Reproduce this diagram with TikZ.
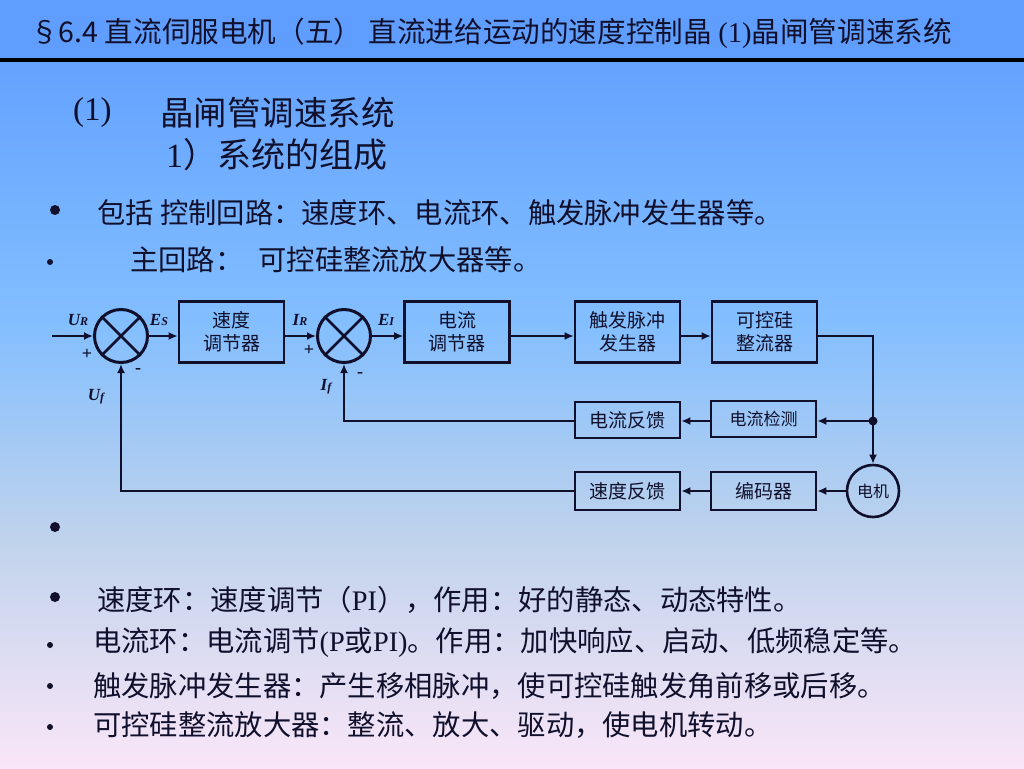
\documentclass[tikz,border=0pt]{standalone}
\usepackage{fontspec}
\setmainfont{Liberation Serif}
\newfontfamily\cjk{Noto Sans CJK SC}
\usetikzlibrary{arrows.meta}
\definecolor{ink}{RGB}{16,16,44}
\definecolor{bgA}{RGB}{95,158,255}
\definecolor{bgB}{RGB}{100,162,255}
\definecolor{bgC}{RGB}{130,190,255}
\definecolor{bgD}{RGB}{192,211,236}
\definecolor{bgE}{RGB}{250,230,248}
\begin{document}
\begin{tikzpicture}[x=1pt,y=-1pt,
  blk/.style={draw=ink, line width=2.6pt, minimum width=105pt, minimum height=61pt, inner sep=0pt,
    font=\cjk\fontsize{19}{23}\selectfont, align=center, text=ink},
  sblk/.style={blk, minimum height=36pt},
  sumn/.style={circle, draw=ink, line width=3pt, minimum size=53pt, inner sep=0pt},
  wire/.style={draw=ink, line width=2.6pt},
  arr/.style={wire, -{Latex[length=9pt,width=8pt]}},
  lbl/.style={font=\fontsize{17}{17}\selectfont\bfseries\itshape, text=ink, inner sep=0pt},
  sgn/.style={font=\fontsize{18}{18}\selectfont\bfseries, text=ink, inner sep=0pt},
  body/.style={anchor=west, inner sep=0pt, font=\cjk\fontsize{28.3}{30}\selectfont, text=ink},
  bigdot/.style={fill=ink},
]
\useasboundingbox (0,0) rectangle (1024,768);
% background
\fill[bgA] (0,0) rectangle (1024,61);
\shade[top color=bgB, bottom color=bgC] (0,60) rectangle (1024,320.5);
\shade[top color=bgC, bottom color=bgD] (0,320) rectangle (1024,540.5);
\shade[top color=bgD, bottom color=bgE] (0,540) rectangle (1024,768);
\draw[line width=3.5pt, black] (0,60) -- (1024,60);

% title
\node[anchor=west, inner sep=0pt, font=\cjk\fontsize{28.6}{30}\selectfont, text=ink] (title) at (30,33)
  {§6.4 直流伺服电机（五） 直流进给运动的速度控制晶 {\rmfamily (1)}晶闸管调速系统};

% headings
\node[anchor=west, inner sep=0pt, font=\fontsize{33}{36}\selectfont, text=ink] (h1n) at (73,113) {(1)};
\node[anchor=west, inner sep=0pt, font=\cjk\fontsize{33.5}{36}\selectfont, text=ink] (h1) at (160,113) {晶闸管调速系统};
\node[anchor=west, inner sep=0pt, font=\fontsize{34}{36}\selectfont, text=ink] (h2) at (166,155) {1{\cjk ）系统的组成}};

% bullets
\fill[bigdot] (55,210) circle (5);
\fill[bigdot] (50,262) circle (3);
\fill[bigdot] (55,527) circle (5);
\fill[bigdot] (55,597) circle (5);
\fill[bigdot] (50,645) circle (3);
\fill[bigdot] (50,686) circle (3);
\fill[bigdot] (50,727) circle (3);

\node[body] (t1) at (97,213) {包括 控制回路：速度环、电流环、触发脉冲发生器等。};
\node[body] (t2) at (130,260) {主回路：\hspace{15pt}可控硅整流放大器等。};
\node[body] (t3) at (97,600) {速度环：速度调节（{\rmfamily PI}），作用：好的静态、动态特性。};
\node[body] (t4) at (93,643) {电流环：电流调节{\rmfamily (P}或{\rmfamily PI)}。作用：加快响应、启动、低频稳定等。};
\node[body] (t5) at (93,686) {触发脉冲发生器：产生移相脉冲，使可控硅触发角前移或后移。};
\node[body] (t6) at (93,725) {可控硅整流放大器：整流、放大、驱动，使电机转动。};

% diagram nodes
\coordinate (in) at (52,336);
\node[sumn] (s1) at (121,336) {};
\node[blk] (b1) at (231.5,332) {速度\\调节器};
\node[sumn] (s2) at (344,336) {};
\node[blk] (b2) at (457,332) {电流\\调节器};
\node[blk] (b3) at (627.5,332) {触发脉冲\\发生器};
\node[blk] (b4) at (764.5,332) {可控硅\\整流器};
\node[sblk] (cf) at (627.5,420) {电流反馈};
\node[sblk, font=\cjk\fontsize{17}{20}\selectfont] (cd) at (763.5,419) {电流检测};
\node[sblk, minimum height=38pt] (sf) at (627.5,491) {速度反馈};
\node[sblk, minimum height=38pt] (enc) at (763.5,491) {编码器};
\node[circle, draw=ink, line width=2.6pt, minimum size=52pt, inner sep=0pt,
      font=\cjk\fontsize{16}{18}\selectfont, text=ink] (m) at (873,491) {电机};
\coordinate (jn) at (873,421);

% sum crosses
\draw[wire] (s1.45) -- (s1.225) (s1.135) -- (s1.315);
\draw[wire] (s2.45) -- (s2.225) (s2.135) -- (s2.315);

% connectors
\draw[arr] (in) -- (s1.west);
\draw[arr] (s1.east) -- (s1.east -| b1.west);
\draw[arr] (b1.east |- s1.east) -- (s2.west);
\draw[arr] (s2.east) -- (s2.east -| b2.west);
\draw[arr] (b2.east |- s2.east) -- (b3.west |- s2.east);
\draw[arr] (b3.east |- s2.east) -- (b4.west |- s2.east);
\draw[wire] (b4.east |- s2.east) -| (jn);
\draw[arr] (jn) -- (m.north);
\draw[arr] (jn) -- (cd.east |- jn);
\draw[arr] (cd.west |- jn) -- (cf.east |- jn);
\draw[arr] (cf.west |- jn) -| (s2.south);
\draw[arr] (m.west) -- (enc.east |- m.west);
\draw[arr] (enc.west |- m.west) -- (sf.east |- m.west);
\draw[arr] (sf.west |- m.west) -| (s1.south);
\fill[ink] (jn) circle (4.5);

% signal labels
\node[lbl] (uR) at (78,320) {U\raisebox{-0.5pt}{\fontsize{12}{12}\selectfont R}};
\node[lbl] (eS) at (159,320) {E\raisebox{-0.5pt}{\fontsize{12}{12}\selectfont S}};
\node[lbl] (iR) at (300,320) {I\raisebox{-0.5pt}{\fontsize{12}{12}\selectfont R}};
\node[lbl] (eI) at (386,320) {E\raisebox{-0.5pt}{\fontsize{12}{12}\selectfont I}};
\node[lbl] (uf) at (96,397) {U\raisebox{-1pt}{\fontsize{12}{12}\selectfont f}};
\node[lbl] (If) at (326,387) {I\raisebox{-1pt}{\fontsize{12}{12}\selectfont f}};
\node[sgn] (p1) at (87,354) {+};
\node[sgn] (n1) at (138,371) {-};
\node[sgn] (p2) at (309,350) {+};
\node[sgn] (n2) at (360,375) {-};
\end{tikzpicture}
\end{document}
